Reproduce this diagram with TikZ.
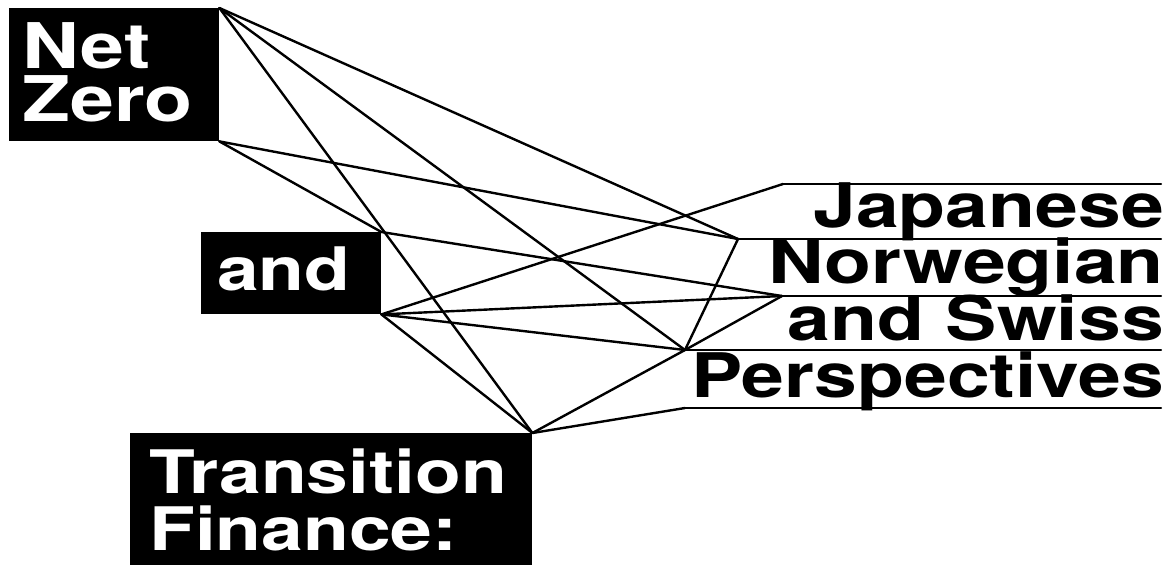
\documentclass[tikz,border=0pt]{standalone}
\usepackage{fontspec}
\newfontfamily\widefont[FakeStretch=1.25]{TeX Gyre Heros}
\begin{document}
\begin{tikzpicture}[x=1pt,y=-1pt,
  blackbox/.style={fill=black,draw=none,inner sep=0pt,anchor=north west},
  wlabel/.style={text=white,inner sep=0pt,anchor=base west,align=left},
  blabel/.style={text=black,inner sep=0pt,anchor=base east,font=\widefont\bfseries\fontsize{61.5}{61.5}\selectfont},
  link/.style={line width=2.4pt,line cap=round,line join=round}]
\useasboundingbox (0,0) rectangle (1171,565);
% boxes
\node[blackbox,minimum width=210pt,minimum height=133pt] (nz) at (9,8) {};
\node[blackbox,minimum width=180pt,minimum height=82pt] (an) at (201,232) {};
\node[blackbox,minimum width=402pt,minimum height=140pt] (tf) at (130,433) {};
% labels (base anchor = baseline of the last line)
\node[wlabel,font=\widefont\bfseries\fontsize{63}{53}\selectfont] (t1) at (22,121) {Net\\Zero};
\node[wlabel,font=\widefont\bfseries\fontsize{60}{60}\selectfont] (t3) at (217,290) {and};
\node[wlabel,font=\widefont\bfseries\fontsize{60}{57}\selectfont] (t4) at (149,550) {Transition\\Finance:};
\node[blabel] (r1t) at (1164,227) {Japanese};
\node[blabel] (r2t) at (1164,283) {Norwegian};
\node[blabel] (r3t) at (1164,340) {and Swiss};
\node[blabel] (r4t) at (1164,397) {Perspectives};
% hubs
\coordinate (A) at (nz.north east);
\coordinate (B) at (nz.south east);
\coordinate (C) at (an.north east);
\coordinate (D) at (an.south east);
\coordinate (E) at (tf.north east);
\coordinate (R1) at (783,184);
\coordinate (R2) at (738,239);
\coordinate (R3) at (782,296);
\coordinate (R4) at (685,350);
\coordinate (R5) at (685,408);
\coordinate (R1e) at (1161,184);
\coordinate (R2e) at (1161,239);
\coordinate (R3e) at (1161,296);
\coordinate (R4e) at (1161,350);
\coordinate (R5e) at (1161,408);
% rules on the right
\draw[link] (R1) -- (R1e);
\draw[link] (R2) -- (R2e);
\draw[link] (R3) -- (R3e);
\draw[link] (R4) -- (R4e);
\draw[link] (R5) -- (R5e);
% connectors
\draw[link] (A) -- (R2);
\draw[link] (A) -- (R4);
\draw[link] (A) -- (E);
\draw[link] (B) -- (C);
\draw[link] (B) -- (R2);
\draw[link] (C) -- (R3);
\draw[link] (D) -- (R1);
\draw[link] (D) -- (R3);
\draw[link] (D) -- (R4);
\draw[link] (D) -- (E);
\draw[link] (E) -- (R4);
\draw[link] (E) -- (R5);
\draw[link] (R4) -- (R2);
\draw[link] (R4) -- (R3);
\end{tikzpicture}
\end{document}
